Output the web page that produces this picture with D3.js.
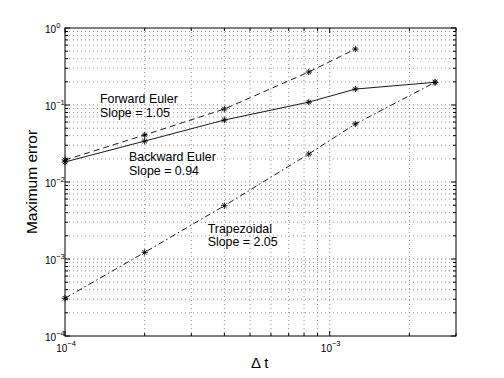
<!DOCTYPE html>
<html><head><meta charset="utf-8">
<script src="https://cdn.jsdelivr.net/npm/d3@7"></script>
<style>body{margin:0;background:#fff}svg{display:block;font-family:"Liberation Sans",Arial,Helvetica,sans-serif}</style>
</head><body><svg id="c" width="504" height="378"></svg>
<script>
const dt = [1e-4, 2e-4, 4e-4, 1/1200, 1.25e-3, 2.5e-3];
const forwardEuler = [0.0193, 0.0408, 0.0887, 0.268, 0.533];
const backwardEuler = [0.0182, 0.034, 0.0638, 0.109, 0.161, 0.197];
const trapezoidal = [0.000309, 0.00122, 0.00492, 0.0231, 0.0567, 0.197];
const xTickExps = [-4, -3];
const yTickExps = [0, -1, -2, -3, -4];
const annotations = [
  {lines: ["Forward Euler", "Slope = 1.05"], x: 1.356e-4, y: 0.1046},
  {lines: ["Backward Euler", "Slope = 0.94"], x: 1.745e-4, y: 0.01819},
  {lines: ["Trapezoidal", "Slope = 2.05"], x: 3.46e-4, y: 0.00216}
];
const xLabel = "Δ t", yLabel = "Maximum error";

const L = 65, R = 456, T = 28, B = 336;
const svg = d3.select("#c");
const x = d3.scaleLog().domain([1e-4, 3e-3]).range([L, R]);
const y = d3.scaleLog().domain([1e-4, 1]).range([B, T]);

const xg = [], yg = [];
for (let e = -4; e <= -3; e++) for (let m = 1; m <= 9; m++) { const v = m * Math.pow(10, e); if (v >= 1e-4 && v <= 3.0001e-3) xg.push(v); }
for (let e = -4; e <= 0; e++) for (let m = 1; m <= 9; m++) { const v = m * Math.pow(10, e); if (v >= 1e-4 && v <= 1) yg.push(v); }

const g = svg.append("g");
g.selectAll(".gx").data(xg.filter(v => v > 1.0001e-4 && v < 2.999e-3)).join("line")
  .attr("x1", d => x(d)).attr("x2", d => x(d)).attr("y1", T).attr("y2", B)
  .attr("stroke", "#777").attr("stroke-width", 0.8).attr("stroke-dasharray", "1,3");
g.selectAll(".gy").data(yg.filter(v => v > 1.0001e-4 && v < 0.9999)).join("line")
  .attr("y1", d => y(d)).attr("y2", d => y(d)).attr("x1", L).attr("x2", R)
  .attr("stroke", "#777").attr("stroke-width", 0.8).attr("stroke-dasharray", "1,3");

const isMajor = v => Math.abs(Math.log10(v) - Math.round(Math.log10(v))) < 1e-9;
xg.forEach(v => {
  const len = isMajor(v) ? 5 : 3;
  g.append("line").attr("x1", x(v)).attr("x2", x(v)).attr("y1", B).attr("y2", B - len).attr("stroke", "#000");
  g.append("line").attr("x1", x(v)).attr("x2", x(v)).attr("y1", T).attr("y2", T + len).attr("stroke", "#000");
});
yg.forEach(v => {
  const len = isMajor(v) ? 5 : 3;
  g.append("line").attr("y1", y(v)).attr("y2", y(v)).attr("x1", L).attr("x2", L + len).attr("stroke", "#000");
  g.append("line").attr("y1", y(v)).attr("y2", y(v)).attr("x1", R).attr("x2", R - len).attr("stroke", "#000");
});
g.append("rect").attr("x", L).attr("y", T).attr("width", R - L).attr("height", B - T)
  .attr("fill", "none").attr("stroke", "#000").attr("stroke-width", 1);

yTickExps.forEach(e => {
  const t = g.append("text").attr("x", 45).attr("y", y(Math.pow(10, e)) + 4.5).attr("font-size", 10).attr("fill", "#000");
  t.append("tspan").text("10");
  t.append("tspan").attr("dy", -5).attr("font-size", 7.5).text(e === 0 ? "0" : "\u2212" + (-e));
});
xTickExps.forEach(e => {
  const t = g.append("text").attr("x", x(Math.pow(10, e)) + 1).attr("y", 352).attr("font-size", 10)
    .attr("text-anchor", "middle").attr("fill", "#000");
  t.append("tspan").text("10");
  t.append("tspan").attr("dy", -6).attr("font-size", 7.5).text("\u2212" + (-e));
});

const series = [
  {vals: forwardEuler, dash: "6,4"},
  {vals: backwardEuler, dash: null},
  {vals: trapezoidal, dash: "6,3,1.5,3"}
];
const line = d3.line().x(d => x(d[0])).y(d => y(d[1]));
series.forEach(s => {
  const pts = s.vals.map((v, i) => [dt[i], v]);
  g.append("path").attr("d", line(pts)).attr("fill", "none").attr("stroke", "#000")
    .attr("stroke-width", 0.9).attr("stroke-dasharray", s.dash);
  const r = 3.2, d2 = r * 0.7071;
  g.selectAll(null).data(pts).join("path")
    .attr("d", d => { const cx = x(d[0]), cy = y(d[1]);
      return `M${cx - r},${cy}L${cx + r},${cy}M${cx},${cy - r}L${cx},${cy + r}M${cx - d2},${cy - d2}L${cx + d2},${cy + d2}M${cx - d2},${cy + d2}L${cx + d2},${cy - d2}`; })
    .attr("stroke", "#000").attr("stroke-width", 0.9).attr("fill", "none");
});

annotations.forEach(a => {
  a.lines.forEach((s, i) => g.append("text").attr("x", x(a.x)).attr("y", y(a.y) + i * 13.6 - 0.5)
    .attr("font-size", 12.4).attr("fill", "#000").text(s));
});

svg.append("text").attr("x", 251).attr("y", 368).attr("font-size", 15).attr("fill", "#000").text(xLabel);
svg.append("text").attr("transform", `translate(37,${(T + B) / 2}) rotate(-90)`).attr("text-anchor", "middle")
  .attr("font-size", 15.5).attr("fill", "#000").text(yLabel);
</script></body></html>
